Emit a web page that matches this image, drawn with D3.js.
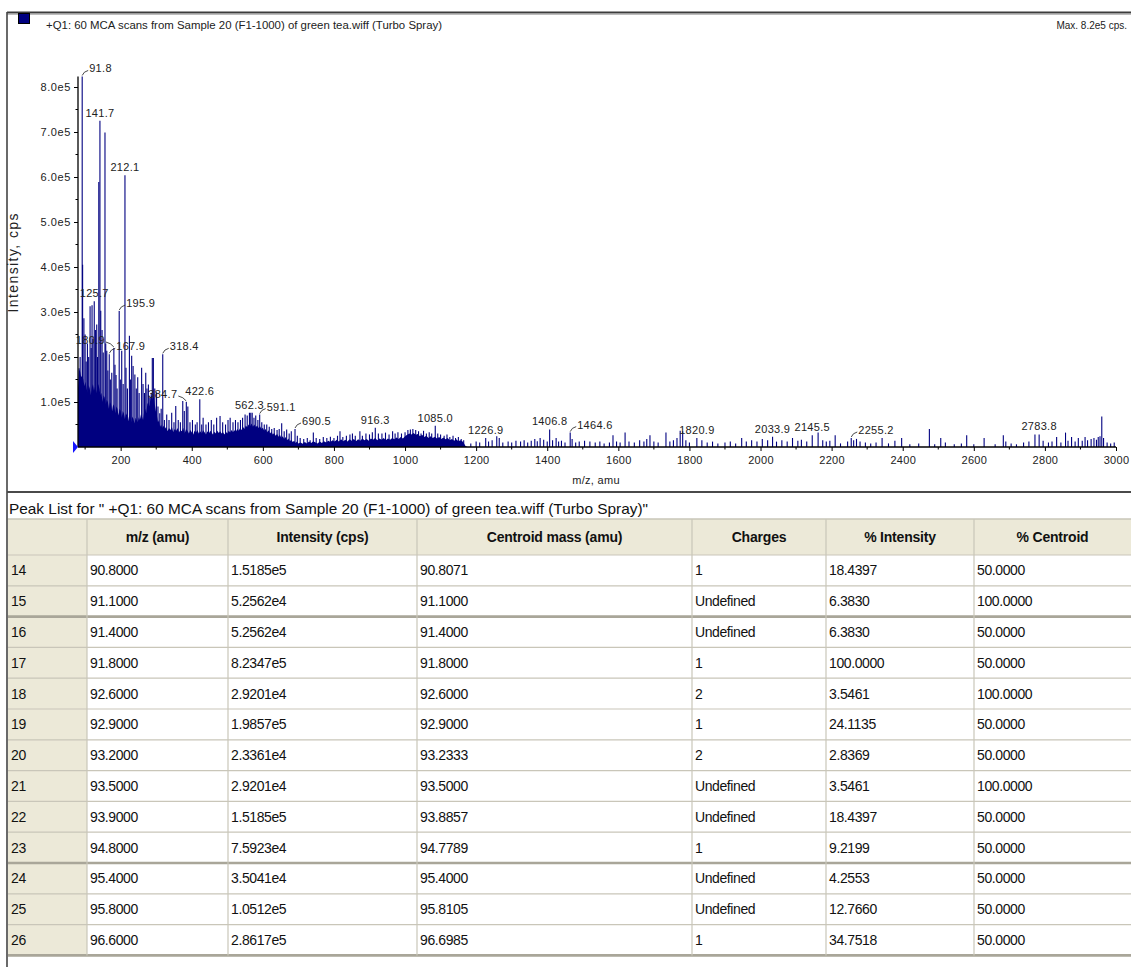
<!DOCTYPE html>
<html><head><meta charset="utf-8">
<script src="https://cdn.jsdelivr.net/npm/d3@7"></script>
<style>
html,body{margin:0;padding:0;background:#fff;}
svg{display:block;font-family:"Liberation Sans",Arial,sans-serif;}
</style></head><body>
<svg id="chart" width="1131" height="967"></svg>
<script>
// ---------- spectrum data ----------
const spectrumTitle = "+Q1: 60 MCA scans from Sample 20 (F1-1000) of green tea.wiff (Turbo Spray)";
const maxText = "Max. 8.2e5 cps.";
const xAxisTitle = "m/z, amu";
const yAxisTitle = "Intensity, cps";

// continuous background of the profile spectrum (m/z, cps)
const envelopeMz = [80,83,86,89,92,95,98,101,104,107,110,113,116,119,122,125,128,131,134,137,140,143,146,149,152,155,158,161,164,167,170,173,176,179,182,185,188,191,194,197,200,203,206,209,212,215,218,221,224,227,230,233,236,239,242,245,248,251,254,257,260,263,266,269,272,275,278,281,284,287,290,293,296,299,302,305,308,311,314,317,320,
  324,328,332,336,340,344,348,352,356,360,364,368,372,376,380,384,388,392,396,400,404,408,412,416,420,424,428,432,436,440,444,448,452,456,460,464,468,472,476,480,484,488,492,496,500,504,508,512,516,520,524,528,532,536,540,544,548,552,556,560,564,568,572,576,580,584,588,592,596,600,604,608,612,616,620,624,628,632,636,640,644,648,652,656,660,664,668,672,676,680,684,688,692,696,700,
  706,712,718,724,730,736,742,748,754,760,766,772,778,784,790,796,802,808,814,820,826,832,838,844,850,856,862,868,874,880,886,892,898,904,910,916,922,928,934,940,946,952,958,964,970,976,982,988,994,1000,1006,1012,1018,1024,1030,1036,1042,1048,1054,1060,1066,1072,1078,1084,1090,1096,1102,1108,1114,1120,1126,1132,1138,1144,1150,1156,1162,1166,1170,1176];
const envelopeIntensity = [1.3e5,1.72e5,1.68e5,1.55e5,1.6e5,1.5e5,1.35e5,1.45e5,1.3e5,1.2e5,1.38e5,1.3e5,1.15e5,1.32e5,1.4e5,1.25e5,1.35e5,1.2e5,1.3e5,1.4e5,1.3e5,1.15e5,1.2e5,1.0e5,1.15e5,1.1e5,0.95e5,1.05e5,1.0e5,0.85e5,1.0e5,0.95e5,0.8e5,0.95e5,0.9e5,0.75e5,0.9e5,0.85e5,0.7e5,0.85e5,0.8e5,0.65e5,0.8e5,0.75e5,0.62e5,0.75e5,0.7e5,0.58e5,0.7e5,0.66e5,0.55e5,0.68e5,0.62e5,0.52e5,0.65e5,0.6e5,0.55e5,0.66e5,0.6e5,0.72e5,0.68e5,0.6e5,0.78e5,0.85e5,0.75e5,0.95e5,1.0e5,0.9e5,1.1e5,1.15e5,1.05e5,1.2e5,0.95e5,0.8e5,0.7e5,0.55e5,0.6e5,0.45e5,0.5e5,0.42e5,0.48e5,
  0.4e5,0.45e5,0.35e5,0.42e5,0.38e5,0.45e5,0.33e5,0.4e5,0.36e5,0.42e5,0.32e5,0.38e5,0.35e5,0.43e5,0.3e5,0.4e5,0.36e5,0.3e5,0.38e5,0.33e5,0.28e5,0.36e5,0.32e5,0.38e5,0.3e5,0.35e5,0.3e5,0.37e5,0.33e5,0.28e5,0.35e5,0.3e5,0.36e5,0.32e5,0.27e5,0.34e5,0.3e5,0.36e5,0.31e5,0.35e5,0.3e5,0.33e5,0.28e5,0.34e5,0.3e5,0.36e5,0.32e5,0.38e5,0.33e5,0.37e5,0.34e5,0.4e5,0.36e5,0.42e5,0.38e5,0.45e5,0.4e5,0.48e5,0.44e5,0.5e5,0.46e5,0.52e5,0.45e5,0.5e5,0.44e5,0.48e5,0.42e5,0.46e5,0.4e5,0.43e5,0.36e5,0.4e5,0.33e5,0.37e5,0.3e5,0.34e5,0.28e5,0.31e5,0.25e5,0.29e5,0.23e5,0.27e5,0.2e5,0.24e5,0.18e5,0.22e5,0.15e5,0.19e5,0.13e5,0.16e5,0.11e5,0.14e5,0.09e5,0.12e5,0.08e5,
  0.1e5,0.07e5,0.11e5,0.08e5,0.12e5,0.09e5,0.13e5,0.1e5,0.08e5,0.12e5,0.09e5,0.13e5,0.1e5,0.14e5,0.11e5,0.15e5,0.12e5,0.16e5,0.12e5,0.17e5,0.13e5,0.16e5,0.12e5,0.17e5,0.14e5,0.18e5,0.13e5,0.17e5,0.14e5,0.19e5,0.15e5,0.18e5,0.14e5,0.19e5,0.16e5,0.2e5,0.15e5,0.19e5,0.16e5,0.2e5,0.15e5,0.19e5,0.16e5,0.2e5,0.17e5,0.21e5,0.18e5,0.22e5,0.19e5,0.24e5,0.27e5,0.3e5,0.28e5,0.31e5,0.27e5,0.29e5,0.24e5,0.27e5,0.22e5,0.25e5,0.2e5,0.24e5,0.2e5,0.23e5,0.19e5,0.22e5,0.18e5,0.21e5,0.17e5,0.2e5,0.15e5,0.18e5,0.14e5,0.17e5,0.13e5,0.15e5,0.12e5,0.08e5,0.02e5,0];

// individual peaks (m/z, cps)
const peakMz = [83,86,91.8,93,96.6,100,103,106.5,110,114,117,119.5,122,125.7,129,132.7,135,138.5,141.7,144,147.7,151,155.9,158,161,164,167.9,171,175,180.9,184,187,190,195.9,199,203,207,212.1,215,219,224.6,228,231,235,240,244,248,252,259,263,267,270.6,274,278,282,286,289,292,296,301,305,310,314,318.4,323,329.6,336,343.6,350,355,362,368,374.7,379,384.7,389,395,402,410,415,422.6,428,432,440,447,455,462,470,479.6,487,495,502,508,516,523,530,537,543,550,556,562.3,566,570,575,580,586,591.1,597,604,611,618,625,632,640,646,653,660,667,674,680,690.5,697,705,715,725,733,742,750,760,770,780,790,800,810,817,825,835,845,852,860,873,880,890,900,908,916.3,925,935,945,955,965,972,980,990,1000,1008,1015,1022,1030,1038,1045,1052,1060,1068,1075,1085.0,1092,1100,1110,1118,1126,1135,1142,1150,1158,1165,1185,1200,1210,1226.9,1235,1245,1258,1265,1275,1290,1300,1312,1325,1335,1345,1355,1365,1372,1380,1390,1400,1406.8,1415,1425,1432,1440,1450,1464.6,1470,1480,1490,1505,1520,1535,1548,1560,1575,1585,1595,1605,1619,1630,1645,1660,1672,1680,1689,1700,1712,1734,1745,1755,1765,1774,1781,1790,1800,1820.9,1835,1850,1865,1880,1900,1915,1930,1947,1960,1975,1990,2005,2020,2033.9,2045,2060,2075,2090,2105,2115,2130,2145.5,2162,2175,2185,2195,2210,2225,2245,2255.2,2262,2270,2280,2295,2310,2325,2342,2360,2378,2397,2420,2445,2475,2490,2507,2520,2545,2565,2580,2600,2629,2660,2683,2690,2705,2720,2740,2755,2772,2783.8,2795,2810,2820,2833,2845,2858,2865,2875,2885,2894,2905,2913,2920,2930,2938,2945,2950,2955,2960,2965,2975,2985,2995];
const peakIntensity = [1.75e5,2.0e5,8.2347e5,4.05e5,2.8617e5,2.5e5,1.9e5,2.3e5,2.0e5,3.13e5,2.2e5,3.15e5,2.4e5,3.24e5,2.6e5,2.72e5,2.0e5,5.89e5,7.25e5,3.03e5,2.6e5,2.1e5,6.99e5,2.3e5,2.14e5,1.7e5,2.06e5,1.5e5,1.65e5,2.2e5,1.83e5,1.6e5,1.3e5,3.02e5,1.5e5,2.14e5,1.4e5,6.04e5,1.76e5,1.3e5,2.47e5,1.5e5,2.03e5,1.8e5,1.61e5,1.3e5,1.55e5,1.2e5,1.76e5,1.4e5,1.2e5,1.65e5,1.3e5,1.39e5,1.1e5,1.2e5,1.98e5,1.98e5,1.3e5,1.21e5,0.9e5,0.75e5,0.85e5,2.06e5,0.6e5,0.72e5,0.6e5,0.76e5,0.55e5,0.91e5,0.6e5,0.55e5,1.02e5,0.8e5,1.0e5,0.9e5,0.55e5,0.6e5,0.5e5,0.55e5,1.06e5,0.5e5,0.65e5,0.5e5,0.55e5,0.6e5,0.5e5,0.65e5,0.69e5,0.55e5,0.5e5,0.6e5,0.65e5,0.55e5,0.6e5,0.55e5,0.6e5,0.65e5,0.72e5,0.7e5,0.76e5,0.76e5,0.76e5,0.65e5,0.7e5,0.6e5,0.72e5,0.55e5,0.5e5,0.5e5,0.45e5,0.4e5,0.42e5,0.38e5,0.4e5,0.53e5,0.35e5,0.39e5,0.3e5,0.35e5,0.4e5,0.25e5,0.2e5,0.18e5,0.2e5,0.15e5,0.32e5,0.2e5,0.18e5,0.22e5,0.2e5,0.23e5,0.2e5,0.25e5,0.35e5,0.22e5,0.25e5,0.28e5,0.3e5,0.25e5,0.35e5,0.25e5,0.3e5,0.28e5,0.33e5,0.43e5,0.3e5,0.3e5,0.32e5,0.28e5,0.35e5,0.3e5,0.33e5,0.3e5,0.33e5,0.38e5,0.39e5,0.4e5,0.38e5,0.35e5,0.3e5,0.36e5,0.3e5,0.33e5,0.3e5,0.47e5,0.3e5,0.28e5,0.25e5,0.28e5,0.22e5,0.25e5,0.2e5,0.22e5,0.18e5,0.15e5,0.08e5,0.12e5,0.1e5,0.2e5,0.12e5,0.15e5,0.24e5,0.2e5,0.1e5,0.12e5,0.1e5,0.14e5,0.12e5,0.15e5,0.1e5,0.14e5,0.18e5,0.13e5,0.2e5,0.16e5,0.12e5,0.39e5,0.15e5,0.2e5,0.12e5,0.14e5,0.1e5,0.32e5,0.18e5,0.1e5,0.12e5,0.14e5,0.12e5,0.1e5,0.12e5,0.08e5,0.1e5,0.26e5,0.12e5,0.1e5,0.32e5,0.12e5,0.1e5,0.15e5,0.12e5,0.18e5,0.26e5,0.12e5,0.1e5,0.32e5,0.12e5,0.15e5,0.2e5,0.36e5,0.35e5,0.15e5,0.1e5,0.2e5,0.15e5,0.1e5,0.12e5,0.08e5,0.1e5,0.12e5,0.08e5,0.2e5,0.12e5,0.15e5,0.12e5,0.18e5,0.15e5,0.23e5,0.12e5,0.15e5,0.12e5,0.2e5,0.14e5,0.16e5,0.12e5,0.26e5,0.32e5,0.15e5,0.12e5,0.14e5,0.26e5,0.08e5,0.12e5,0.2e5,0.15e5,0.18e5,0.12e5,0.1e5,0.08e5,0.1e5,0.2e5,0.08e5,0.14e5,0.2e5,0.06e5,0.08e5,0.4e5,0.06e5,0.2e5,0.1e5,0.06e5,0.08e5,0.26e5,0.06e5,0.2e5,0.06e5,0.26e5,0.12e5,0.08e5,0.06e5,0.1e5,0.12e5,0.28e5,0.28e5,0.14e5,0.1e5,0.12e5,0.22e5,0.1e5,0.32e5,0.14e5,0.22e5,0.12e5,0.2e5,0.14e5,0.22e5,0.15e5,0.18e5,0.2e5,0.16e5,0.22e5,0.24e5,0.68e5,0.2e5,0.1e5,0.08e5,0.1e5];

// annotated peaks
const labeledPeaks = [91.8,141.7,212.1,125.7,195.9,180.9,167.9,318.4,384.7,422.6,562.3,591.1,690.5,916.3,1085.0,1226.9,1406.8,1464.6,1820.9,2033.9,2145.5,2255.2,2783.8];

const xTickValues = [200,400,600,800,1000,1200,1400,1600,1800,2000,2200,2400,2600,2800,3000];
const xMinorTicks = [100,300,500,700,900,1100,1300,1500,1700,1900,2100,2300,2500,2700,2900];
const yTickValues = [1e5,2e5,3e5,4e5,5e5,6e5,7e5,8e5];
const yMinorTicks = [0.5e5,1.5e5,2.5e5,3.5e5,4.5e5,5.5e5,6.5e5,7.5e5];

// ---------- peak list table ----------
const peakListTitle = "Peak List for \" +Q1: 60 MCA scans from Sample 20 (F1-1000) of green tea.wiff (Turbo Spray)\"";
const tableHeaders = ["", "m/z (amu)", "Intensity (cps)", "Centroid mass (amu)", "Charges", "% Intensity", "% Centroid"];
const rowIndex = ["14","15","16","17","18","19","20","21","22","23","24","25","26"];
const rowMz = ["90.8000","91.1000","91.4000","91.8000","92.6000","92.9000","93.2000","93.5000","93.9000","94.8000","95.4000","95.8000","96.6000"];
const rowIntensity = ["1.5185e5","5.2562e4","5.2562e4","8.2347e5","2.9201e4","1.9857e5","2.3361e4","2.9201e4","1.5185e5","7.5923e4","3.5041e4","1.0512e5","2.8617e5"];
const rowCentroid = ["90.8071","91.1000","91.4000","91.8000","92.6000","92.9000","93.2333","93.5000","93.8857","94.7789","95.4000","95.8105","96.6985"];
const rowCharges = ["1","Undefined","Undefined","1","2","1","2","Undefined","Undefined","1","Undefined","Undefined","1"];
const rowPctIntensity = ["18.4397","6.3830","6.3830","100.0000","3.5461","24.1135","2.8369","3.5461","18.4397","9.2199","4.2553","12.7660","34.7518"];
const rowPctCentroid = ["50.0000","100.0000","50.0000","50.0000","100.0000","50.0000","50.0000","100.0000","50.0000","50.0000","50.0000","50.0000","50.0000"];

// ---------- drawing ----------
const svg = d3.select("#chart");
const W = 1131;
const navy = "#000080";
const textCol = "#222";

// frame
svg.append("line").attr("x1",7).attr("x2",W).attr("y1",12.5).attr("y2",12.5).attr("stroke","#3c3c3c").attr("stroke-width",2);
svg.append("line").attr("x1",7).attr("x2",W).attr("y1",14.5).attr("y2",14.5).attr("stroke","#bdbdbd").attr("stroke-width",1);
svg.append("line").attr("x1",7).attr("x2",7).attr("y1",12).attr("y2",967).attr("stroke","#444").attr("stroke-width",1.6);
svg.append("line").attr("x1",7).attr("x2",W).attr("y1",492).attr("y2",492).attr("stroke","#4a4a4a").attr("stroke-width",2.2);

// header
svg.append("rect").attr("x",18.5).attr("y",13.5).attr("width",11).attr("height",10).attr("fill",navy).attr("stroke","#000").attr("stroke-width",1);
svg.append("text").attr("x",46).attr("y",29).attr("font-size",10).attr("fill",textCol)
  .attr("textLength",396).attr("lengthAdjust","spacingAndGlyphs").text(spectrumTitle);
svg.append("text").attr("x",1127).attr("y",29).attr("font-size",10).attr("fill",textCol)
  .attr("text-anchor","end").text(maxText);

// scales
const x = d3.scaleLinear().domain([80, 3000]).range([78, 1116]);
const yMax = d3.max(peakIntensity);
const y = d3.scaleLinear().domain([0, yMax]).range([447, 447 - yMax / 1e5 * 45]);

const plot = svg.append("g");

// profile background
const area = d3.area()
  .x((d, i) => x(envelopeMz[i]))
  .y0(y(0))
  .y1((d, i) => y(envelopeIntensity[i]));
plot.append("path").datum(envelopeMz).attr("d", area).attr("fill", navy);

// peak sticks
plot.selectAll("line.peak").data(peakMz).join("line")
  .attr("class","peak")
  .attr("x1", d => x(d)).attr("x2", d => x(d))
  .attr("y1", y(0)).attr("y2", (d, i) => y(peakIntensity[i]))
  .attr("stroke", navy).attr("stroke-width", 1.1);

// axes
const fmtY = v => d3.format(".1e")(v).replace("e+", "e");
const yAxis = d3.axisLeft(y).tickValues(yTickValues).tickFormat(fmtY).tickSize(4).tickPadding(3);
const gy = svg.append("g").attr("transform","translate(78,0)").call(yAxis);
gy.select(".domain").remove();
gy.append("line").attr("x1",0).attr("x2",0).attr("y1",y(0)).attr("y2",y(yMax)).attr("stroke","#000").attr("stroke-width",1.3);
gy.selectAll("text").attr("font-size",11).attr("fill",textCol).attr("font-family","Liberation Sans, Arial, sans-serif").attr("letter-spacing","0.6px");
gy.selectAll(".tick line").attr("stroke","#000");
gy.selectAll("line.minor").data(yMinorTicks).join("line").attr("class","minor")
  .attr("x1",-2.5).attr("x2",0).attr("y1",d=>y(d)).attr("y2",d=>y(d)).attr("stroke","#000");

const xAxis = d3.axisBottom(x).tickValues(xTickValues).tickFormat(d3.format("d")).tickSize(4).tickPadding(5);
const gx = svg.append("g").attr("transform",`translate(0,${y(0)})`).call(xAxis);
gx.select(".domain").attr("stroke","#000").attr("stroke-width",1.4).attr("d",`M${x(80)},0H${x(3000)}`);
gx.selectAll("text").attr("font-size",11).attr("fill",textCol).attr("font-family","Liberation Sans, Arial, sans-serif").attr("letter-spacing","0.3px");
gx.selectAll(".tick line").attr("stroke","#000");
gx.selectAll("line.minor").data(xMinorTicks).join("line").attr("class","minor")
  .attr("x1",d=>x(d)).attr("x2",d=>x(d)).attr("y1",0).attr("y2",2.5).attr("stroke","#000");

// baseline marker
svg.append("path").attr("d",`M${x(80)-5},${y(0)-6}L${x(80)},${y(0)}L${x(80)-5},${y(0)+6}Z`).attr("fill","#1515ff");

// axis titles
svg.append("text").attr("x",(x(80)+x(3000))/2 - 1).attr("y",484).attr("font-size",11).attr("fill",textCol)
  .attr("text-anchor","middle").attr("letter-spacing","0.3px").text(xAxisTitle);
svg.append("text").attr("transform","translate(18,263) rotate(-90)").attr("font-size",14).attr("fill",textCol)
  .attr("text-anchor","middle").attr("textLength",99).attr("lengthAdjust","spacing").text(yAxisTitle);

// peak annotations
const placement = {91.8:"right",195.9:"right",318.4:"right",167.9:"right",591.1:"right",690.5:"right",1464.6:"right",2255.2:"right",180.9:"left",384.7:"left"};
const ann = svg.append("g").attr("font-size",11).attr("fill",textCol).attr("letter-spacing","0.3px");
labeledPeaks.forEach(mz => {
  const I = peakIntensity[peakMz.indexOf(mz)];
  const px = x(mz), py = y(I);
  const mode = placement[mz] || "above";
  const label = mz.toFixed(1);
  if (mode === "above") {
    ann.append("text").attr("x",px).attr("y",py-4).attr("text-anchor","middle").text(label);
  } else if (mode === "right") {
    ann.append("path").attr("d",`M${px},${py-1}Q${px+1.5},${py-5} ${px+6},${py-6}`).attr("fill","none").attr("stroke","#333").attr("stroke-width",0.9);
    ann.append("text").attr("x",px+7).attr("y",py-4).attr("text-anchor","start").text(label);
  } else {
    ann.append("path").attr("d",`M${px},${py-1}Q${px-3},${py-5} ${px-8},${py-6}`).attr("fill","none").attr("stroke","#333").attr("stroke-width",0.9);
    ann.append("text").attr("x",px-9).attr("y",py-4).attr("text-anchor","end").text(label);
  }
});

// ---------- table ----------
svg.append("text").attr("x",9).attr("y",513.5).attr("font-size",15).attr("fill","#111")
  .attr("textLength",639).attr("lengthAdjust","spacingAndGlyphs").text(peakListTitle);

const colEdges = [8, 87, 228, 417, 692, 826, 974, 1131];
const headTop = 519, headH = 36, rowH = 30.8;
const rowsTop = headTop + headH;
const nRows = rowIndex.length;
const beige = "#ECE9D8";
const tbl = svg.append("g");

tbl.append("rect").attr("x",colEdges[0]).attr("y",headTop).attr("width",W-colEdges[0]).attr("height",headH).attr("fill",beige);
tbl.append("rect").attr("x",colEdges[0]).attr("y",rowsTop).attr("width",colEdges[1]-colEdges[0]).attr("height",nRows*rowH).attr("fill",beige);

// row separators
const thickAfter = [1, 9, 12];
d3.range(nRows + 1).forEach(r => {
  const yy = rowsTop + r * rowH;
  const thick = thickAfter.includes(r - 1);
  tbl.append("line").attr("x1",colEdges[0]).attr("x2",W).attr("y1",yy).attr("y2",yy)
    .attr("stroke", thick ? "#a9a699" : "#c9c6b9").attr("stroke-width", thick ? 2.6 : 1.2);
});
tbl.append("line").attr("x1",colEdges[0]).attr("x2",W).attr("y1",headTop).attr("y2",headTop).attr("stroke","#c9c6b9").attr("stroke-width",1.5);
colEdges.slice(1, -1).forEach(cx => {
  tbl.append("line").attr("x1",cx).attr("x2",cx).attr("y1",headTop).attr("y2",rowsTop + nRows*rowH)
    .attr("stroke","#c9c6b9").attr("stroke-width",1.2);
});

// header labels
tableHeaders.forEach((h, c) => {
  tbl.append("text").attr("x",(colEdges[c]+colEdges[c+1])/2).attr("y",headTop+headH/2+5)
    .attr("text-anchor","middle").attr("font-size",14).attr("font-weight","bold").attr("fill","#111")
    .attr("letter-spacing","-0.2px").text(h);
});

// cells
const columns = [rowIndex, rowMz, rowIntensity, rowCentroid, rowCharges, rowPctIntensity, rowPctCentroid];
columns.forEach((col, c) => {
  tbl.selectAll(null).data(col).join("text")
    .attr("x", colEdges[c] + 3)
    .attr("y", (d, r) => rowsTop + r*rowH + rowH/2 + 5)
    .attr("font-size", 14).attr("fill","#111").attr("letter-spacing","-0.4px")
    .text(d => d);
});
</script>
</body></html>
